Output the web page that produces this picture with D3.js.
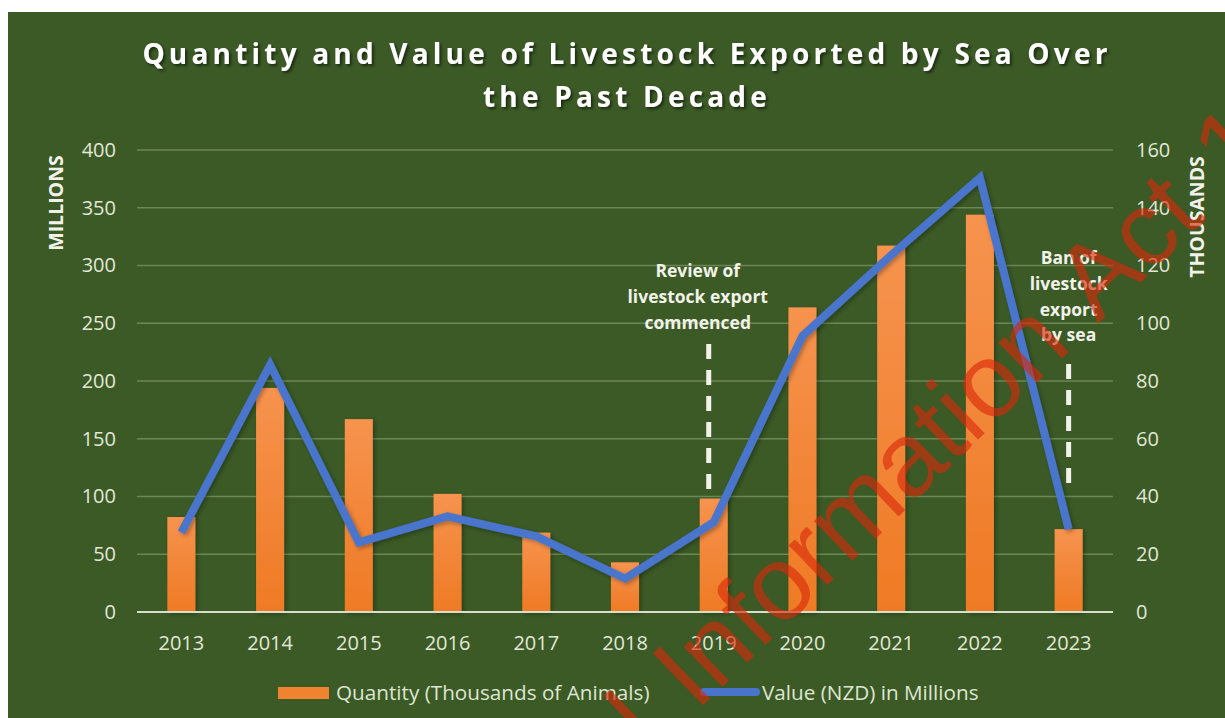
<!DOCTYPE html>
<html>
<head>
<meta charset="utf-8">
<script src="https://cdn.jsdelivr.net/npm/d3@7"></script>
<style>
  body { margin: 0; background: #ffffff; }
  svg { display: block; }
</style>
</head>
<body>
<svg id="chart" width="1225" height="718"></svg>
<script>
// data
var years = ["2013", "2014", "2015", "2016", "2017", "2018", "2019", "2020", "2021", "2022", "2023"];
var quantity = [32.9, 77.6, 66.8, 40.9, 27.5, 17.2, 39.3, 105.5, 126.9, 137.6, 28.7];   // thousands of animals
var value = [68.9, 214, 60.3, 82.8, 65.5, 29, 77.8, 239, 309, 376, 71.7];                 // NZD millions
var leftTicks = [0, 50, 100, 150, 200, 250, 300, 350, 400];
var rightTicks = [0, 20, 40, 60, 80, 100, 120, 140, 160];
var notes = [
    {year: "2019", lines: ["Review of", "livestock export", "commenced"]},
    {year: "2023", lines: ["Ban of", "livestock", "export", "by sea"]}
];

var svg = d3.select("#chart");
var defs = svg.append("defs");

var grad = defs.append("linearGradient").attr("id", "barGrad")
    .attr("x1", 0).attr("y1", 0).attr("x2", 0).attr("y2", 1);
grad.append("stop").attr("offset", "0%").attr("stop-color", "#f6934e");
grad.append("stop").attr("offset", "100%").attr("stop-color", "#ef7a24");

var sh = defs.append("filter").attr("id", "shadow").attr("x", "-20%").attr("y", "-20%").attr("width", "140%").attr("height", "140%");
sh.append("feDropShadow").attr("dx", 2).attr("dy", 2).attr("stdDeviation", 1.5)
    .attr("flood-color", "#000").attr("flood-opacity", 0.55);
var sh2 = defs.append("filter").attr("id", "soft").attr("x", "-20%").attr("y", "-20%").attr("width", "140%").attr("height", "140%");
sh2.append("feDropShadow").attr("dx", 2).attr("dy", 2).attr("stdDeviation", 2)
    .attr("flood-color", "#000").attr("flood-opacity", 0.3);

// green panel
svg.append("rect").attr("x", 8).attr("y", 12).attr("width", 1217).attr("height", 706)
    .attr("fill", "#3b5a25");

var x = d3.scaleBand().domain(years).range([137, 1113]).paddingInner(0.684).paddingOuter(0.342);
var yL = d3.scaleLinear().domain([0, 400]).range([612, 150]);
var yR = d3.scaleLinear().domain([0, 160]).range([612, 150]);

// title
var title = svg.append("text")
    .attr("text-anchor", "middle")
    .attr("font-family", "Open Sans, sans-serif")
    .attr("font-weight", 700)
    .attr("font-size", 28)
    .attr("letter-spacing", 4.2)
    .attr("fill", "#ffffff")
    .attr("filter", "url(#shadow)");
title.append("tspan").attr("x", 627).attr("y", 64).text("Quantity and Value of Livestock Exported by Sea Over");
title.append("tspan").attr("x", 627).attr("y", 107).text("the Past Decade");

// gridlines
svg.append("g").selectAll("line")
    .data(leftTicks.slice(1))
    .enter().append("line")
    .attr("x1", 137).attr("x2", 1113)
    .attr("y1", function(d) { return yL(d); })
    .attr("y2", function(d) { return yL(d); })
    .attr("stroke", "#6c8756").attr("stroke-width", 1.5);

// axes
var axL = svg.append("g").attr("transform", "translate(116,0)")
    .call(d3.axisLeft(yL).tickValues(leftTicks).tickSize(0).tickPadding(0));
var axR = svg.append("g").attr("transform", "translate(1136,0)")
    .call(d3.axisRight(yR).tickValues(rightTicks).tickSize(0).tickPadding(0));
var axB = svg.append("g").attr("transform", "translate(0,612)")
    .call(d3.axisBottom(x).tickSize(0).tickPadding(0));
[axL, axR, axB].forEach(function(a) {
    a.select(".domain").remove();
    a.selectAll("text")
        .attr("font-family", "Open Sans, sans-serif")
        .attr("font-size", 20)
        .attr("fill", "#e2e7d8");
});
axB.selectAll("text").attr("dy", 0).attr("y", 38);

// bars (right axis, thousands)
svg.append("g").attr("filter", "url(#soft)")
    .selectAll("rect")
    .data(quantity)
    .enter().append("rect")
    .attr("x", function(d, i) { return x(years[i]); })
    .attr("width", x.bandwidth())
    .attr("y", function(d) { return yR(d); })
    .attr("height", function(d) { return yR(0) - yR(d); })
    .attr("fill", "url(#barGrad)");

// baseline
svg.append("line").attr("x1", 137).attr("x2", 1113).attr("y1", 612).attr("y2", 612)
    .attr("stroke", "#d9ddcb").attr("stroke-width", 2);

// line (left axis, millions)
var line = d3.line()
    .x(function(d, i) { return x(years[i]) + x.bandwidth() / 2; })
    .y(function(d) { return yL(d); });
svg.append("path")
    .datum(value)
    .attr("d", line)
    .attr("fill", "none")
    .attr("stroke", "#4874cc")
    .attr("stroke-width", 8)
    .attr("stroke-linejoin", "miter")
    .attr("filter", "url(#soft)");

// annotations
var note = svg.append("g").selectAll("g")
    .data(notes)
    .enter().append("g");
note.append("text")
    .attr("text-anchor", "middle")
    .attr("font-family", "Open Sans, sans-serif")
    .attr("font-weight", 700)
    .attr("font-size", 17.5)
    .attr("fill", "#f2f2ea")
    .each(function(d) {
        var t = d3.select(this);
        var cx = x(d.year) + x.bandwidth() / 2;
        var top = d.lines.length == 3 ? 277 : 264;
        d.lines.forEach(function(s, k) {
            t.append("tspan").attr("x", d.year == "2019" ? cx - 16 : cx).attr("y", top + k * 25.8).text(s);
        });
    });
note.append("line")
    .attr("x1", function(d) { return x(d.year) + x.bandwidth() / 2 - (d.year == "2019" ? 5 : 0); })
    .attr("x2", function(d) { return x(d.year) + x.bandwidth() / 2 - (d.year == "2019" ? 5 : 0); })
    .attr("y1", function(d) { return d.year == "2019" ? 344 : 364; })
    .attr("y2", 490)
    .attr("stroke", "#f2f2ea")
    .attr("stroke-width", 5)
    .attr("stroke-dasharray", "15,11");

// axis titles
svg.append("text")
    .attr("transform", "translate(63,203) rotate(-90)")
    .attr("text-anchor", "middle")
    .attr("font-family", "Open Sans, sans-serif")
    .attr("font-weight", 700)
    .attr("font-size", 19.5)
    .attr("fill", "#f2f2ea")
    .text("MILLIONS");
svg.append("text")
    .attr("transform", "translate(1204,217) rotate(-90)")
    .attr("text-anchor", "middle")
    .attr("font-family", "Open Sans, sans-serif")
    .attr("font-weight", 700)
    .attr("font-size", 19.5)
    .attr("fill", "#f2f2ea")
    .text("THOUSANDS");

// legend
var leg = svg.append("g").attr("font-family", "Open Sans, sans-serif").attr("font-size", 20.7).attr("fill", "#dfe5d3");
leg.append("rect").attr("x", 278).attr("y", 687).attr("width", 51).attr("height", 12).attr("fill", "#f0832f");
leg.append("text").attr("x", 336).attr("y", 700).text("Quantity (Thousands of Animals)");
leg.append("line").attr("x1", 704).attr("x2", 756).attr("y1", 692).attr("y2", 692)
    .attr("stroke", "#4874cc").attr("stroke-width", 8).attr("stroke-linecap", "round");
leg.append("text").attr("x", 762).attr("y", 700).text("Value (NZD) in Millions");

// watermark
var prefix = "Released under the Official ";
var wm = svg.append("text")
    .attr("font-family", "Liberation Sans, Arial, sans-serif")
    .attr("font-size", 105)
    .attr("word-spacing", 10)
    .attr("fill", "#d8280a")
    .attr("fill-opacity", 0.62)
    .text(prefix + "Information Act 1982");
var off = wm.node().getSubStringLength(0, prefix.length);
wm.attr("x", -off).attr("y", 0)
    .attr("transform", "translate(696,712) rotate(-44)");
</script>
</body>
</html>
